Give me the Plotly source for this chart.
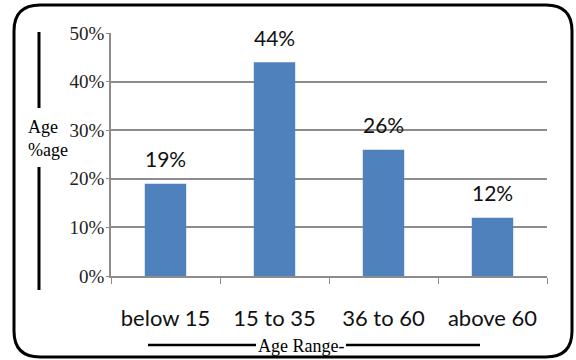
import plotly.graph_objects as go

categories = ["below 15", "15 to 35", "36 to 60", "above 60"]
values = [19, 44, 26, 12]
y_ticks = [0, 10, 20, 30, 40, 50]
y_tick_labels = ["0%", "10%", "20%", "30%", "40%", "50%"]

W, H = 576, 360
L, R, T, B = 111, 547, 33, 276

def px(x):
    return (x - L) / (R - L)

def py(y):
    return (B - y) / (B - T)

fig = go.Figure()
fig.add_trace(go.Bar(x=categories, y=values, marker_color="#4F81BD",
                     marker_line_width=0, width=0.38))

for c, v in zip(categories, values):
    fig.add_annotation(x=c, y=v, text=f"{v}%", showarrow=False, yshift=25,
                       yanchor="middle",
                       font=dict(family="Lato", size=21, color="#111"))

# rounded border
x0, x1, y0, y1 = px(14), px(572), py(357), py(5)
rx, ry = 26 / (R - L), 26 / (B - T)
path = (f"M {x0+rx},{y1} L {x1-rx},{y1} Q {x1},{y1} {x1},{y1-ry} "
        f"L {x1},{y0+ry} Q {x1},{y0} {x1-rx},{y0} L {x0+rx},{y0} "
        f"Q {x0},{y0} {x0},{y0+ry} L {x0},{y1-ry} Q {x0},{y1} {x0+rx},{y1} Z")
fig.add_shape(type="path", path=path, xref="paper", yref="paper",
              line=dict(color="black", width=3))

# y-title bracket lines
fig.add_shape(type="line", xref="paper", yref="paper", x0=px(39), x1=px(39),
              y0=py(32), y1=py(108), line=dict(color="black", width=3))
fig.add_shape(type="line", xref="paper", yref="paper", x0=px(39), x1=px(39),
              y0=py(167), y1=py(290), line=dict(color="black", width=3))
# x-title lines
fig.add_shape(type="line", xref="paper", yref="paper", x0=px(148), x1=px(256),
              y0=py(345), y1=py(345), line=dict(color="black", width=2.5))
fig.add_shape(type="line", xref="paper", yref="paper", x0=px(346), x1=px(480),
              y0=py(345), y1=py(345), line=dict(color="black", width=2.5))

fig.add_annotation(xref="paper", yref="paper", x=px(26), y=py(138),
                   xanchor="left", yanchor="middle",
                   text="Age<br>%age", showarrow=False, align="left",
                   font=dict(family="Liberation Serif", size=18, color="black"))
fig.add_annotation(xref="paper", yref="paper", x=px(301), y=py(346),
                   xanchor="center", yanchor="middle",
                   text="Age Range-", showarrow=False,
                   font=dict(family="Liberation Serif", size=18, color="black"))

fig.update_layout(
    width=W, height=H,
    margin=dict(l=L, r=W - R, t=T, b=H - B),
    plot_bgcolor="white", paper_bgcolor="white",
    showlegend=False,
    bargap=0.62,
)
fig.update_xaxes(showgrid=False, showline=True, linecolor="#8c8c8c", linewidth=1.5,
                 ticks="outside", tickson="boundaries", ticklen=6, tickcolor="#8c8c8c",
                 tickfont=dict(family="Lato", size=22, color="#111"),
                 ticklabelstandoff=22)
fig.update_yaxes(range=[0, 50], tickvals=y_ticks, ticktext=y_tick_labels,
                 showgrid=True, gridcolor="#8c8c8c", gridwidth=1.5,
                 showline=True, linecolor="#8c8c8c", linewidth=1.5,
                 ticks="outside", ticklen=3, tickcolor="#8c8c8c",
                 tickfont=dict(family="Liberation Serif", size=19, color="#222"),
                 ticklabelstandoff=-2,
                 zeroline=False)

fig.write_html("out.html")
